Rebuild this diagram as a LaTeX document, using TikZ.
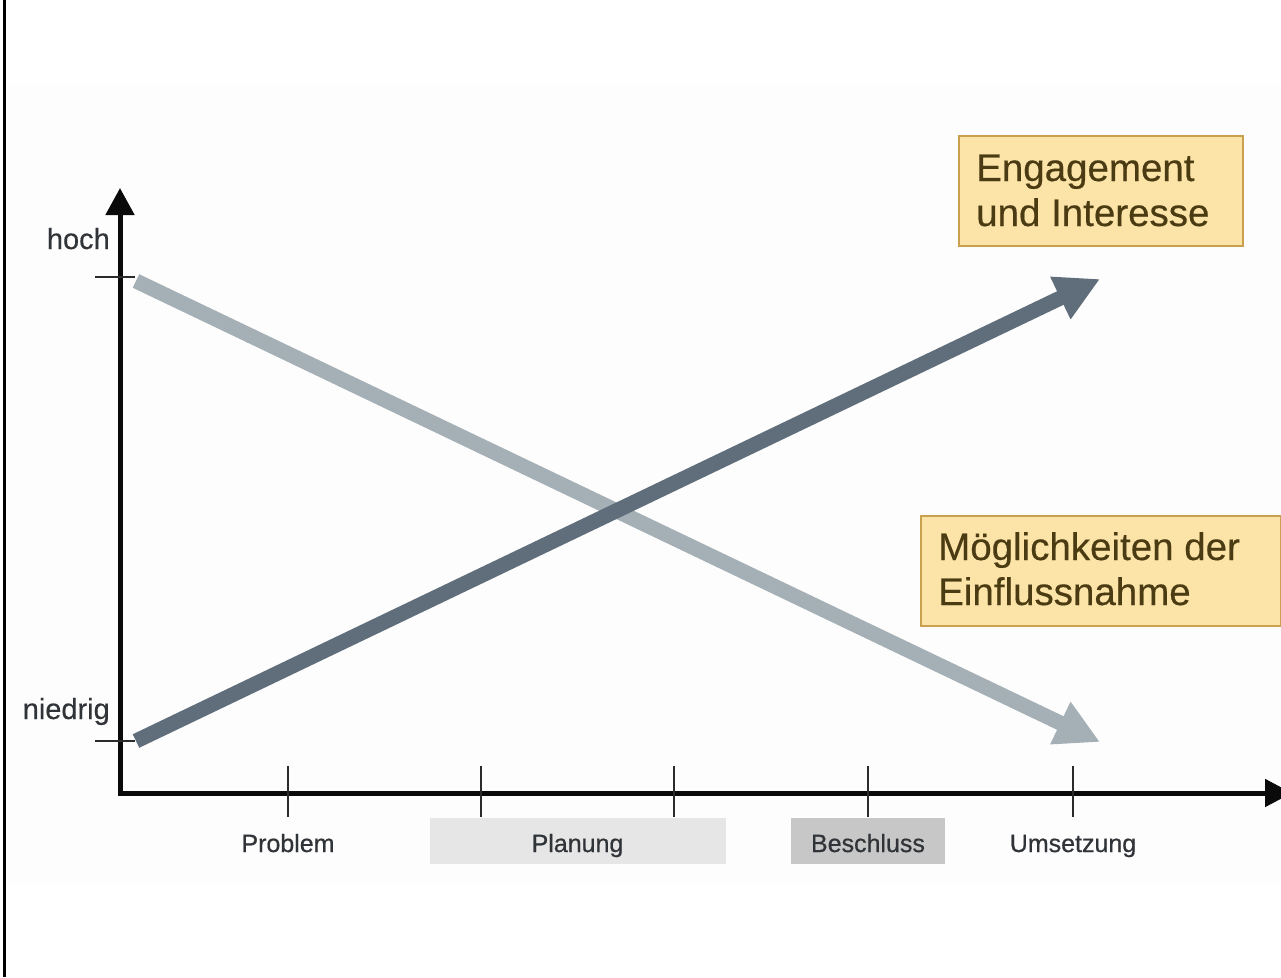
\documentclass[tikz,border=0pt]{standalone}
\usepackage{fontspec}
\setmainfont{Liberation Sans}
\newfontfamily\phasefont[FakeBold=0.6]{Liberation Sans}
\newfontfamily\levelfont[FakeBold=0.3]{Liberation Sans}
\newfontfamily\notefont[FakeBold=0.4]{Liberation Sans}
\usetikzlibrary{arrows.meta}

\definecolor{axisblack}{HTML}{0A0A0A}
\definecolor{tickgray}{HTML}{2B2B2B}
\definecolor{labelgray}{HTML}{303438}
\definecolor{riseblue}{HTML}{5F6E7A}
\definecolor{fallblue}{HTML}{A5AFB6}
\definecolor{notefill}{HTML}{FCE4A8}
\definecolor{noteedge}{HTML}{C8A04E}
\definecolor{notetext}{HTML}{4A3B12}
\definecolor{phaselight}{HTML}{E6E6E6}
\definecolor{phasedark}{HTML}{C7C7C7}
\definecolor{panel}{HTML}{FDFDFD}

\tikzset{
  axisline/.style={line width=5pt, draw=axisblack, line join=miter},
  tickmark/.style={line width=2.2pt, draw=tickgray},
  levellabel/.style={font=\levelfont\fontsize{29}{33}\selectfont, text=labelgray, inner sep=0pt},
  phaselabel/.style={font=\phasefont\fontsize{25}{28}\selectfont, text=labelgray, inner sep=0pt, anchor=base},
  phasebox/.style={minimum height=46pt, inner sep=0pt},
  trend/.style={line width=15pt, -{Triangle[length=44pt,width=44pt]}},
  notebox/.style={draw=noteedge, line width=2.2pt, fill=notefill, anchor=north west, inner sep=0pt},
  notetext/.style={text=notetext, font=\notefont\fontsize{38.5}{45}\selectfont, align=left,
    anchor=base west, inner sep=0pt}
}

\begin{document}
\begin{tikzpicture}[x=1pt,y=-1pt]
  \useasboundingbox (0,0) rectangle (1281,977);
  \fill[white] (0,0) rectangle (1281,977);
  \fill[panel] (7,85) rectangle (1281,883);

  % left frame rule
  \draw[line width=2.5pt, black] (4.5,0) -- (4.5,977);

  % axes with a shared corner
  \coordinate (ytip) at (120,188);
  \coordinate (origin) at (120,793);
  \coordinate (xtip) at (1292,793);
  \draw[axisline, {Triangle[length=27pt,width=28pt]}-{Triangle[length=27pt,width=27pt]}]
    (ytip) -- (origin) -- (xtip);

  % level ticks and labels
  \draw[tickmark] (95,277) -- (135,277);
  \draw[tickmark] (95,741) -- (135,741);
  \node[levellabel, anchor=base east] (hoch) at (110,249) {hoch};
  \node[levellabel, anchor=base east] (niedrig) at (110,719) {niedrig};

  % phase ticks
  \foreach \px in {288, 481, 674, 868, 1073}{
    \draw[tickmark] (\px,766) -- (\px,817);
  }

  % phase bands and labels
  \node[phasebox, fill=phaselight, minimum width=296pt] (planungband) at (577.5,841) {};
  \node[phasebox, fill=phasedark, minimum width=154pt] (beschlussband) at (868,841) {};
  \node[phaselabel] (problem) at (288,852) {Problem};
  \node[phaselabel] (planung) at (577.5,852) {Planung};
  \node[phaselabel] (beschluss) at (868,852) {Beschluss};
  \node[phaselabel] (umsetzung) at (1073,852) {Umsetzung};

  % trends
  \coordinate (fallstart) at (136,281);
  \coordinate (fallend) at (1100,742);
  \coordinate (risestart) at (136,741);
  \coordinate (riseend) at (1100,279);
  \draw[trend, draw=fallblue, fill=fallblue] (fallstart) -- (fallend);
  \draw[trend, draw=riseblue, fill=riseblue] (risestart) -- (riseend);

  % notes (the text anchor sits on the baseline of the last line)
  \node[notebox, minimum width=284pt, minimum height=110pt] (engagementbox) at (958,135) {};
  \node[notetext] (engagement) at (976,226) {Engagement\\und Interesse};
  \node[notebox, minimum width=360pt, minimum height=110pt] (einflussbox) at (920,515) {};
  \node[notetext] (einfluss) at (938,605) {Möglichkeiten der\\Einflussnahme};
\end{tikzpicture}
\end{document}
